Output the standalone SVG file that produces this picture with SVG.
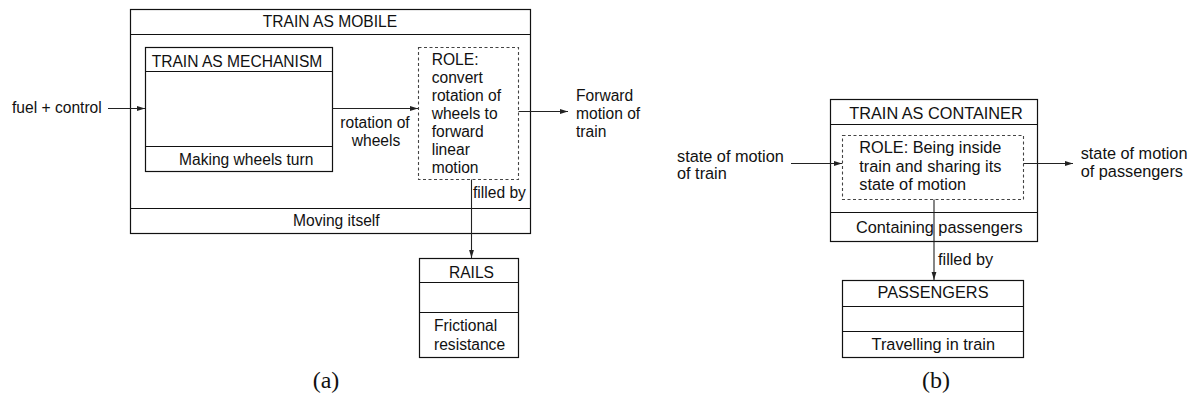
<svg xmlns="http://www.w3.org/2000/svg" width="1192" height="399" viewBox="0 0 1192 399">
<style>
  .box { fill: none; stroke: #111; stroke-width: 1.2; }
  .div { stroke: #111; stroke-width: 1.2; }
  .role { fill: none; stroke: #444; stroke-width: 1.1; stroke-dasharray: 3 2.5; }
  .conn { fill: none; stroke: #222; stroke-width: 1.1; }
  .ta { font-family: "Liberation Sans", Arial, sans-serif; font-size: 15.6px; fill: #111; }
  .tb { font-family: "Liberation Sans", Arial, sans-serif; font-size: 16.3px; fill: #111; }
  .cap { font-family: "Liberation Serif", "Times New Roman", serif; font-size: 24px; fill: #111; }
  .mid { text-anchor: middle; }
</style>
<defs>
  <marker id="arr" viewBox="0 0 8 6" refX="8" refY="3" markerWidth="8" markerHeight="6" markerUnits="userSpaceOnUse" orient="auto">
    <path d="M0,0.6 L8,3 L0,5.4 Z" fill="#222"/>
  </marker>
</defs>

<!-- (a) -->
<g id="train-as-mobile">
  <rect class="box" x="130.5" y="9.5" width="400" height="224"/>
  <line class="div" x1="130.5" y1="34.5" x2="530.5" y2="34.5"/>
  <line class="div" x1="130.5" y1="208.5" x2="530.5" y2="208.5"/>
  <text class="ta mid" x="330" y="27">TRAIN AS MOBILE</text>
  <text class="ta" x="293" y="226">Moving itself</text>
</g>
<g id="train-as-mechanism">
  <rect class="box" x="145.5" y="47.5" width="187" height="124"/>
  <line class="div" x1="145.5" y1="71.5" x2="332.5" y2="71.5"/>
  <line class="div" x1="145.5" y1="146.5" x2="332.5" y2="146.5"/>
  <text class="ta mid" x="237" y="66.5">TRAIN AS MECHANISM</text>
  <text class="ta" x="179" y="165">Making wheels turn</text>
</g>
<g id="role-a">
  <rect class="role" x="418.5" y="47.5" width="100" height="132"/>
  <text class="ta" x="431.7" y="65">ROLE:</text>
  <text class="ta" x="431.7" y="83">convert</text>
  <text class="ta" x="431.7" y="101">rotation of</text>
  <text class="ta" x="431.7" y="119">wheels to</text>
  <text class="ta" x="431.7" y="137">forward</text>
  <text class="ta" x="431.7" y="155">linear</text>
  <text class="ta" x="431.7" y="173">motion</text>
</g>
<g id="rails">
  <rect class="box" x="419.5" y="258.5" width="99" height="99"/>
  <line class="div" x1="419.5" y1="282.5" x2="518.5" y2="282.5"/>
  <line class="div" x1="419.5" y1="312.5" x2="518.5" y2="312.5"/>
  <text class="ta mid" x="471.5" y="278.3">RAILS</text>
  <text class="ta" x="434" y="330.7">Frictional</text>
  <text class="ta" x="434" y="350">resistance</text>
</g>

<!-- (b) -->
<g id="train-as-container">
  <rect class="box" x="830.5" y="99.5" width="207" height="142"/>
  <line class="div" x1="830.5" y1="124.5" x2="1037.5" y2="124.5"/>
  <line class="div" x1="830.5" y1="212.5" x2="1037.5" y2="212.5"/>
  <text class="tb mid" x="936" y="119">TRAIN AS CONTAINER</text>
  <text class="tb" x="856" y="233">Containing passengers</text>
</g>
<g id="role-b">
  <rect class="role" x="842.5" y="135.5" width="181" height="64"/>
  <text class="tb" x="859.3" y="153">ROLE: Being inside</text>
  <text class="tb" x="859.3" y="171.5">train and sharing its</text>
  <text class="tb" x="859.3" y="190">state of motion</text>
</g>
<g id="passengers">
  <rect class="box" x="842.5" y="280.5" width="181" height="77"/>
  <line class="div" x1="842.5" y1="306.5" x2="1023.5" y2="306.5"/>
  <line class="div" x1="842.5" y1="331.5" x2="1023.5" y2="331.5"/>
  <text class="tb mid" x="933" y="297.7">PASSENGERS</text>
  <text class="tb mid" x="933.3" y="350">Travelling in train</text>
</g>

<g id="connectors">
  <line class="conn" x1="108" y1="108.5" x2="145" y2="108.5" marker-end="url(#arr)"/>
  <line class="conn" x1="332.5" y1="108.5" x2="418" y2="108.5" marker-end="url(#arr)"/>
  <line class="conn" x1="518.5" y1="111.5" x2="568" y2="111.5" marker-end="url(#arr)"/>
  <line class="conn" x1="471.5" y1="179.5" x2="471.5" y2="258" marker-end="url(#arr)"/>
  <line class="conn" x1="791" y1="163.5" x2="842" y2="163.5" marker-end="url(#arr)"/>
  <line class="conn" x1="1023.5" y1="163.5" x2="1073" y2="163.5" marker-end="url(#arr)"/>
  <line class="conn" x1="934" y1="199.5" x2="934" y2="280" marker-end="url(#arr)"/>
</g>

<g id="labels">
  <text class="ta" x="12" y="113">fuel + control</text>
  <text class="ta mid" x="375" y="128">rotation of</text>
  <text class="ta mid" x="376" y="146">wheels</text>
  <text class="ta" x="576" y="101">Forward</text>
  <text class="ta" x="576" y="119">motion of</text>
  <text class="ta" x="576" y="136.7">train</text>
  <text class="ta" x="473" y="198">filled by</text>
  <text class="tb" x="677" y="161.5">state of motion</text>
  <text class="tb" x="677" y="179">of train</text>
  <text class="tb" x="1080.7" y="159">state of motion</text>
  <text class="tb" x="1080.7" y="176.5">of passengers</text>
  <text class="tb" x="938" y="265">filled by</text>
  <text class="cap mid" x="326" y="388">(a)</text>
  <text class="cap mid" x="936" y="388">(b)</text>
</g>
</svg>
